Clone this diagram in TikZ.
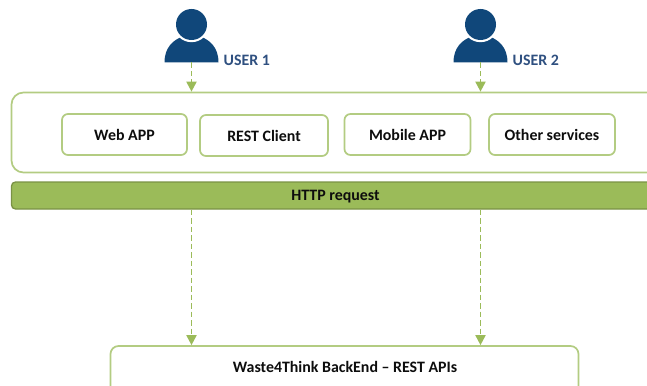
\documentclass[tikz,border=0pt]{standalone}
\usepackage{fontspec}
\setmainfont{Carlito}
\usetikzlibrary{arrows.meta}
\definecolor{boxgreen}{HTML}{B3CC82}
\definecolor{bargreen}{HTML}{9BBB59}
\definecolor{baredge}{HTML}{7A9245}
\definecolor{arrowgreen}{HTML}{9BBB59}
\definecolor{userblue}{HTML}{10477A}
\definecolor{labelblue}{HTML}{2F5080}
\tikzset{
  appbox/.style={draw=boxgreen,line width=1.7pt,fill=white,rounded corners=6pt,minimum height=41pt,font=\bfseries\fontsize{15.9}{17}\selectfont,text=black!95,inner sep=0pt},
  framebox/.style={draw=boxgreen,line width=1.7pt,fill=white,rounded corners=12pt,inner sep=0pt},
  barbox/.style={draw=baredge,line width=1.3pt,fill=bargreen,rounded corners=4pt,inner sep=0pt},
  barlabel/.style={font=\bfseries\fontsize{15.9}{17}\selectfont,text=black!95,inner sep=0pt},
  flow/.style={draw=arrowgreen,line width=1.9pt,dash pattern=on 5.5pt off 3pt,-{Triangle[width=10pt,length=10pt]}},
  userlabel/.style={font=\bfseries\fontsize{15.9}{17}\selectfont,text=labelblue,inner sep=0pt,anchor=west}
}
\begin{document}
\begin{tikzpicture}[x=1pt,y=-1pt]
\useasboundingbox (0,0) rectangle (647,385);
\newcommand\usericon[3]{
\fill[userblue] (#1-27,62.5) .. controls (#1-27,47) and (#1-18,40) .. (#1-9,36.5) -- (#1+9,36.5) .. controls (#1+18,40) and (#1+27,47) .. (#1+27,62.5) -- cycle;
\fill[white] (#1,24.5) circle (17.7);
\fill[userblue] (#1,24.5) circle (15.5);
\coordinate (#2) at (#1,62.5);
\node[userlabel] (#2label) at (#1+32,60) {#3};
}
\usericon{191.5}{user1}{USER 1}
\usericon{480.5}{user2}{USER 2}
% clients
\node[framebox,minimum width=660pt,minimum height=80pt] (clients) at (341.5,132.5) {};
\node[appbox,minimum width=125pt] (web) at (124.5,134.5) {Web APP};
\node[appbox,minimum width=128pt] (rest) at (264,135.5) {REST Client};
\node[appbox,minimum width=126pt] (mobile) at (407.5,134.5) {Mobile APP};
\node[appbox,minimum width=126pt] (other) at (552,134.5) {Other services};
\node[barbox,minimum width=660pt,minimum height=27pt] (http) at (341.5,195.5) {};
\node[barlabel] (httplabel) at (335.5,197) {HTTP request};
\node[framebox,rounded corners=8pt,minimum width=468pt,minimum height=70pt] (backend) at (344.5,381) {};
\node[barlabel] (backendlabel) at (345,367) {Waste4Think BackEnd – REST APIs};
% arrows
\draw[flow] (user1) -- (user1 |- clients.north);
\draw[flow] (user2) -- (user2 |- clients.north);
\draw[flow] (user1 |- http.south) -- (user1 |- backend.north);
\draw[flow] (user2 |- http.south) -- (user2 |- backend.north);
\end{tikzpicture}
\end{document}
